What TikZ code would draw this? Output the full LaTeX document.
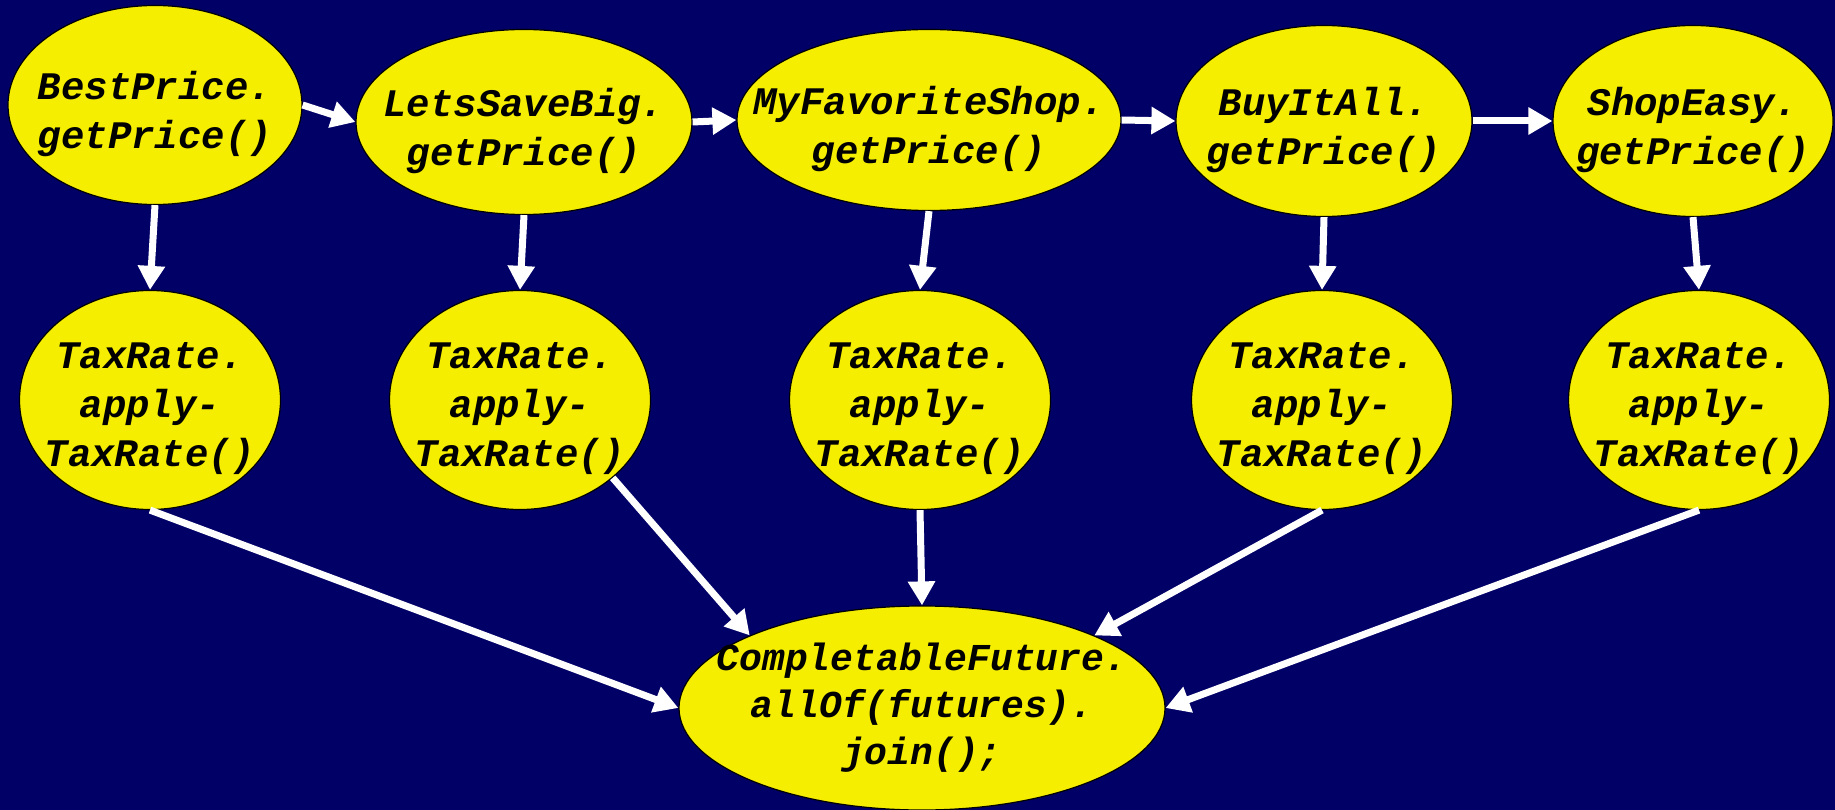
\documentclass[tikz,border=0pt]{standalone}
\usepackage{fontspec}
\setmonofont{Liberation Mono}
\usetikzlibrary{shapes.geometric,arrows.meta}
\definecolor{navy}{RGB}{0,0,102}
\definecolor{lemon}{RGB}{245,238,0}
\tikzset{
  blob/.style={ellipse,draw=black,line width=1.2pt,fill=lemon,inner sep=0pt},
  code/.style={align=center,yshift=-9pt,font=\fontsize{39}{49}\selectfont\ttfamily\bfseries\itshape},
  flow/.style={draw=white,line width=7pt,-{Triangle[width=26pt,length=24pt]}}
}
\begin{document}
\begin{tikzpicture}[x=1pt,y=-1pt]

        \fill[navy] (0,0) rectangle (1835,810);
        \useasboundingbox (0,0) rectangle (1835,810);
        
        % shops
        \node[blob,minimum width=294pt,minimum height=199pt] (bp) at (155,105) {};
        \node[blob,minimum width=336pt,minimum height=185pt] (ls) at (524,122) {};
        \node[blob,minimum width=384pt,minimum height=181pt] (mf) at (929,120) {};
        \node[blob,minimum width=296pt,minimum height=191pt] (ba) at (1324,121) {};
        \node[blob,minimum width=280pt,minimum height=191pt] (se) at (1693,121) {};
        \node[code] (bp-t) at (bp) {BestPrice.\\getPrice()};
        \node[code] (ls-t) at (ls) {LetsSaveBig.\\getPrice()};
        \node[code] (mf-t) at (mf) {MyFavoriteShop.\\getPrice()};
        \node[code] (ba-t) at (ba) {BuyItAll.\\getPrice()};
        \node[code] (se-t) at (se) {ShopEasy.\\getPrice()};
        
        % tax rates
        \node[blob,minimum width=261pt,minimum height=219pt] (tx1) at (150,400) {};
        \node[blob,minimum width=261pt,minimum height=219pt] (tx2) at (520,400) {};
        \node[blob,minimum width=261pt,minimum height=219pt] (tx3) at (920,400) {};
        \node[blob,minimum width=261pt,minimum height=219pt] (tx4) at (1322,400) {};
        \node[blob,minimum width=261pt,minimum height=219pt] (tx5) at (1699,400) {};
        \node[code] (tx1-t) at (tx1) {TaxRate.\\apply-\\TaxRate()};
        \node[code] (tx2-t) at (tx2) {TaxRate.\\apply-\\TaxRate()};
        \node[code] (tx3-t) at (tx3) {TaxRate.\\apply-\\TaxRate()};
        \node[code] (tx4-t) at (tx4) {TaxRate.\\apply-\\TaxRate()};
        \node[code] (tx5-t) at (tx5) {TaxRate.\\apply-\\TaxRate()};
        
        % join
        \node[blob,minimum width=486pt,minimum height=204pt] (fut) at (922,708) {};
        \node[code,yshift=9pt,font=\fontsize{38}{47}\selectfont\ttfamily\bfseries\itshape] (fut-t) at (fut) {CompletableFuture.\\allOf(futures).\\join();};
        
        \draw[flow] (bp.east) -- (ls.west);
        \draw[flow] (ls.east) -- (mf.west);
        \draw[flow] (mf.east) -- (ba.west);
        \draw[flow] (ba.east) -- (se.west);
        
        \draw[flow] (bp.south) -- (tx1.north);
        \draw[flow] (ls.south) -- (tx2.north);
        \draw[flow] (mf.south) -- (tx3.north);
        \draw[flow] (ba.south) -- (tx4.north);
        \draw[flow] (se.south) -- (tx5.north);
        
        \draw[flow] (tx1.south) -- (fut.west);
        \draw[flow] (tx2.south east) -- (fut.north west);
        \draw[flow] (tx3.south) -- (fut.north);
        \draw[flow] (tx4.south) -- (fut.north east);
        \draw[flow] (tx5.south) -- (fut.east);
        
\end{tikzpicture}
\end{document}
